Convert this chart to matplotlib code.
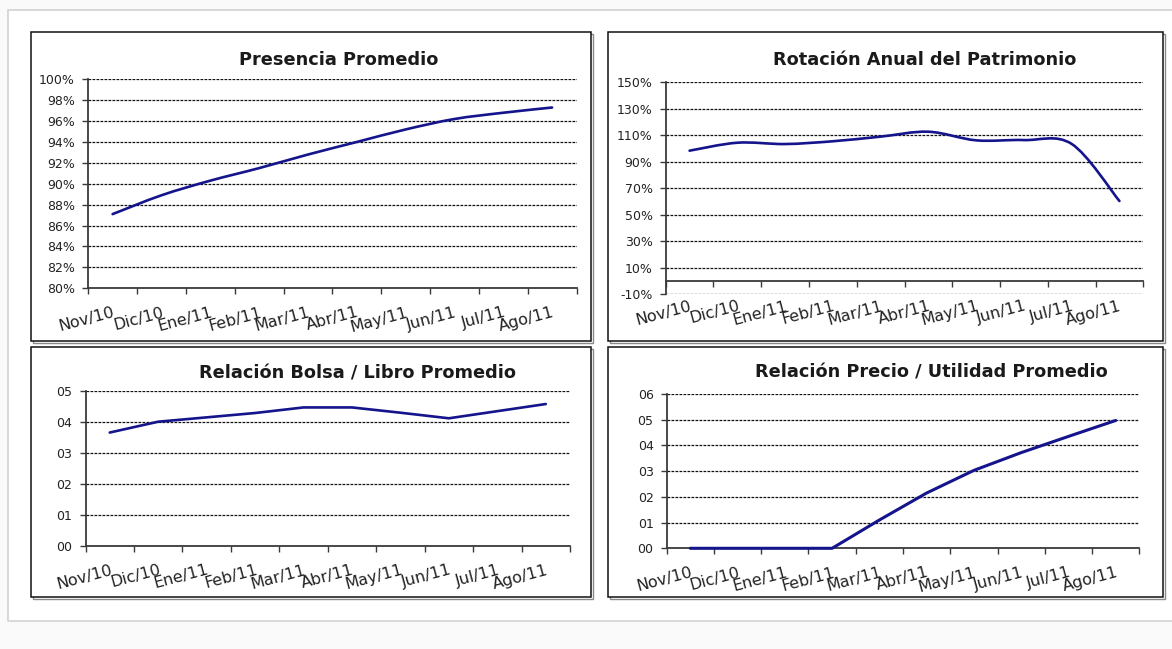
import matplotlib
matplotlib.use("Agg")
import matplotlib.pyplot as plt
from matplotlib.path import Path
from matplotlib.patches import PathPatch, Rectangle
from matplotlib.ticker import FixedLocator, FuncFormatter

# ---- data -------------------------------------------------------------
months = ["Nov/10", "Dic/10", "Ene/11", "Feb/11", "Mar/11",
          "Abr/11", "May/11", "Jun/11", "Jul/11", "Ago/11"]

presencia = [87.1, 88.9, 90.3, 91.5, 92.8, 94.0, 95.2, 96.2, 96.8, 97.3]          # %
rotacion = [98.4, 104.4, 103.4, 105.5, 109.0, 112.7, 106.2, 106.4, 103.5, 60.4]   # %
bolsa_libro = [0.365, 0.400, 0.414, 0.428, 0.446, 0.446, 0.429, 0.411, 0.434, 0.457]
precio_utilidad = [0.0, 0.0, 0.0, 0.0, 0.110, 0.215, 0.303, 0.372, 0.435, 0.497]

titles = ["Presencia Promedio", "Rotación Anual del Patrimonio",
          "Relación Bolsa / Libro Promedio", "Relación Precio / Utilidad Promedio"]

pct_ticks_1 = [80, 82, 84, 86, 88, 90, 92, 94, 96, 98, 100]
pct_ticks_2 = [-10, 10, 30, 50, 70, 90, 110, 130, 150]
ratio_ticks_1 = [0.0, 0.1, 0.2, 0.3, 0.4, 0.5]
ratio_ticks_2 = [0.0, 0.1, 0.2, 0.3, 0.4, 0.5, 0.6]

# ---- styling ----------------------------------------------------------
W, H = 1172, 649
LINE = "#14148c"
AXC = "#3a3a3a"
plt.rcParams["font.family"] = ["DejaVu Sans"]

fig = plt.figure(figsize=(W / 100, H / 100), dpi=100)
fig.patch.set_facecolor("#fafafa")


def frac(x0, y0, x1, y1):
    return [x0 / W, 1 - y1 / H, (x1 - x0) / W, (y1 - y0) / H]


# white page and the four framed boxes
fig.patches.append(Rectangle((7.5 / W, 1 - 620.5 / H), (W - 7.5 + 5) / W, (620.5 - 9.5) / H,
                             transform=fig.transFigure, facecolor="white",
                             edgecolor="#d2d2d2", lw=1.2, zorder=-3))
for (x0, y0, x1, y1) in [(31, 31.5, 590.5, 341), (608, 31.5, 1162.5, 341),
                         (31, 346.5, 590.5, 596.5), (608, 346.5, 1162.5, 596.5)]:
    fig.patches.append(Rectangle(((x0 + 2) / W, 1 - (y1 + 2) / H), (x1 - x0) / W, (y1 - y0) / H,
                                 transform=fig.transFigure, facecolor="none",
                                 edgecolor="#8a8a8a", lw=1.0, zorder=-2))
    fig.patches.append(Rectangle((x0 / W, 1 - y1 / H), (x1 - x0) / W, (y1 - y0) / H,
                                 transform=fig.transFigure, facecolor="white",
                                 edgecolor="#111111", lw=1.1, zorder=-1))


def smooth_path(xs, ys):
    """Cardinal (Catmull-Rom) Bezier path through the points."""
    pts = list(zip(xs, ys))
    verts = [pts[0]]
    codes = [Path.MOVETO]
    n = len(pts)
    for i in range(n - 1):
        p0 = pts[i - 1] if i > 0 else pts[i]
        p1 = pts[i]
        p2 = pts[i + 1]
        p3 = pts[i + 2] if i + 2 < n else pts[i + 1]
        c1 = (p1[0] + (p2[0] - p0[0]) / 6, p1[1] + (p2[1] - p0[1]) / 6)
        c2 = (p2[0] - (p3[0] - p1[0]) / 6, p2[1] - (p3[1] - p1[1]) / 6)
        verts += [c1, c2, p2]
        codes += [Path.CURVE4] * 3
    return Path(verts, codes)


def setup(ax, yticks, fmt, label_pad):
    n = len(months)
    x = list(range(n))
    ax.set_facecolor("none")
    ax.set_xlim(-0.5, n - 0.5)
    ax.set_ylim(yticks[0], yticks[-1])
    ax.set_xticks(x)
    ax.set_xticklabels(months, rotation=15, ha="right", rotation_mode="anchor",
                       fontsize=11.5, color="#222222")
    ax.xaxis.set_minor_locator(FixedLocator([i - 0.5 for i in range(n + 1)]))
    ax.tick_params(axis="x", which="major", length=0, pad=label_pad)
    ax.tick_params(axis="x", which="minor", length=4.5, width=1.0, color=AXC, direction="out")
    ax.yaxis.set_major_locator(FixedLocator(yticks))
    ax.yaxis.set_major_formatter(FuncFormatter(fmt))
    ax.tick_params(axis="y", length=4.5, width=1.0, color=AXC, direction="out",
                   labelsize=9, labelcolor="#222222", pad=5)
    for s in ("top", "right"):
        ax.spines[s].set_visible(False)
    for s in ("left", "bottom"):
        ax.spines[s].set_color(AXC)
        ax.spines[s].set_linewidth(1.3)
    ax.yaxis.grid(True, linestyle=(0, (2.2, 1.0)), color="#111111", linewidth=0.9)
    ax.set_axisbelow(True)
    return x


pct = lambda v, _: f"{v:.0f}%"
ratio = lambda v, _: f"{v:.1f}".replace(".", "")

# Presencia Promedio
ax1 = fig.add_axes(frac(88.2, 79.3, 576.5, 288.3))
x = setup(ax1, pct_ticks_1, pct, 12)
ax1.add_patch(PathPatch(smooth_path(x, presencia), facecolor="none", edgecolor=LINE,
                        lw=1.9, capstyle="round", zorder=3))

# Rotación Anual del Patrimonio
ax2 = fig.add_axes(frac(665.7, 82.3, 1143.3, 294.3))
x = setup(ax2, pct_ticks_2, pct, 3)
ax2.spines["bottom"].set_visible(False)
ax2.tick_params(axis="x", which="minor", length=0)
zero_pos = (0 - pct_ticks_2[0]) / (pct_ticks_2[-1] - pct_ticks_2[0])
sec = ax2.secondary_xaxis(zero_pos)
sec.set_xticks([i - 0.5 for i in range(len(months) + 1)])
sec.set_xticklabels([])
sec.tick_params(axis="x", length=4.5, width=1.0, color=AXC, direction="out")
sec.spines["bottom"].set_color(AXC)
sec.spines["bottom"].set_linewidth(1.3)
ax2.add_patch(PathPatch(smooth_path(x, rotacion), facecolor="none", edgecolor=LINE,
                        lw=1.9, capstyle="round", zorder=3))

# Relación Bolsa / Libro Promedio
ax3 = fig.add_axes(frac(85.5, 390.7, 570, 545.7))
x = setup(ax3, ratio_ticks_1, ratio, 12)
ax3.plot(x, bolsa_libro, color=LINE, lw=1.9, solid_capstyle="round", zorder=3, clip_on=False)

# Relación Precio / Utilidad Promedio
ax4 = fig.add_axes(frac(666.7, 394, 1139.3, 548.3))
x = setup(ax4, ratio_ticks_2, ratio, 12)
ax4.plot(x, precio_utilidad, color=LINE, lw=2.2, solid_capstyle="round", zorder=3, clip_on=False)

for t, (cx, by) in zip(titles, [(338.5, 65), (924.6, 65), (357.6, 378), (931, 377.5)]):
    fig.text(cx / W, 1 - by / H, t, ha="center", va="baseline", fontsize=12.8,
             fontweight="bold", color="#1a1a1a")

fig.savefig("out.png", dpi=100, facecolor=fig.get_facecolor())
